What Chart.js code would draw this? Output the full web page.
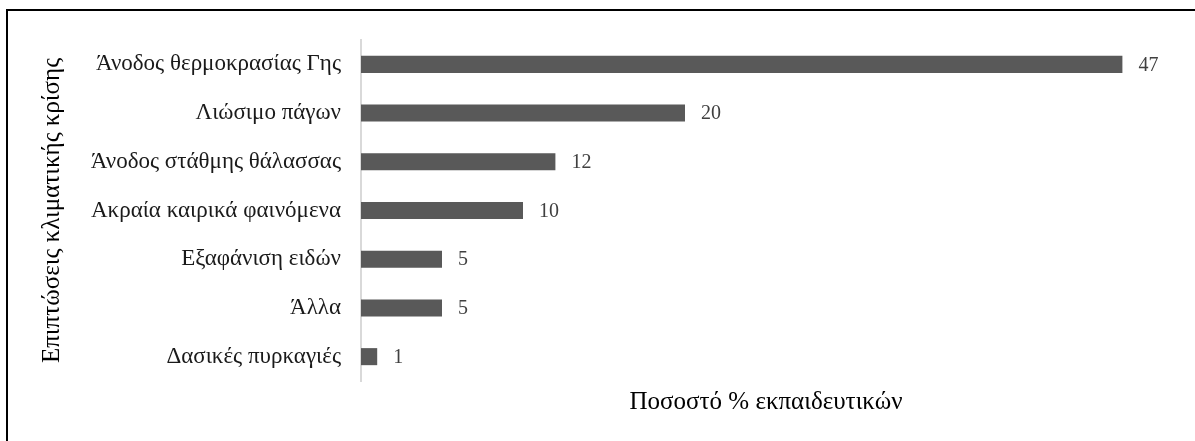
<!DOCTYPE html>
<html>
<head>
<meta charset="utf-8">
<script src="https://cdn.jsdelivr.net/npm/chart.js@4/dist/chart.umd.min.js"></script>
<style>
  html, body { margin: 0; padding: 0; background: #fff; overflow: hidden; }
  #wrap { position: relative; width: 1195px; height: 441px; }
  #frame { position: absolute; left: 6px; top: 9px; right: -10px; bottom: -10px; border: 2px solid #000; pointer-events: none; }
  canvas { position: absolute; left: 0; top: 0; }
</style>
</head>
<body>
<div id="wrap">
  <canvas id="myChart" width="1195" height="441"></canvas>
  <div id="frame"></div>
</div>
<script>
// Επιπτώσεις κλιματικής κρίσης (% εκπαιδευτικών)
var categories = [
  'Άνοδος θερμοκρασίας Γης',
  'Λιώσιμο πάγων',
  'Άνοδος στάθμης θάλασσας',
  'Ακραία καιρικά φαινόμενα',
  'Εξαφάνιση ειδών',
  'Άλλα',
  'Δασικές πυρκαγιές'
];
var percentValues = [47, 20, 12, 10, 5, 5, 1];
var xTitle = 'Ποσοστό % εκπαιδευτικών';
var yTitle = 'Επιπτώσεις κλιματικής κρίσης';

var serif = "'Liberation Serif', 'DejaVu Serif', serif";

// γράφει την τιμή δεξιά από κάθε μπάρα
var valueLabels = {
  id: 'valueLabels',
  afterDatasetsDraw(chart) {
    var ctx = chart.ctx;
    var meta = chart.getDatasetMeta(0);
    ctx.save();
    ctx.font = '20px ' + serif;
    ctx.fillStyle = '#404040';
    ctx.textAlign = 'left';
    ctx.textBaseline = 'middle';
    meta.data.forEach(function (bar, i) {
      ctx.fillText(String(percentValues[i]), bar.x + 16, bar.y + 1);
    });
    ctx.restore();
  }
};

const ctx = document.getElementById('myChart');
new Chart(ctx, {
  type: 'bar',
  data: {
    labels: categories,
    datasets: [{
      data: percentValues,
      backgroundColor: '#595959',
      borderWidth: 0,
      barPercentage: 0.35,
      categoryPercentage: 1
    }]
  },
  options: {
    indexAxis: 'y',
    responsive: false,
    animation: false,
    layout: { padding: { left: 20, top: 40, right: 24, bottom: 0 } },
    plugins: { legend: { display: false }, tooltip: { enabled: false } },
    scales: {
      x: {
        min: 0,
        max: 50,
        grid: { display: false },
        border: { display: false },
        ticks: { display: false },
        title: {
          display: true,
          text: xTitle,
          color: '#000',
          font: { family: serif, size: 25 },
          padding: { top: 0, bottom: 24 }
        },
        afterFit(scale) { scale.height = 60; }
      },
      y: {
        grid: { display: false, drawTicks: false },
        border: { display: true, color: '#d9d9d9', width: 2 },
        ticks: {
          color: '#1a1a1a',
          font: { family: serif, size: 23 },
          padding: 20
        },
        title: {
          display: true,
          text: yTitle,
          color: '#000',
          font: { family: serif, size: 25 },
          padding: { top: 17, bottom: 0 }
        },
        afterFit(scale) { scale.width = 341; }
      }
    }
  },
  plugins: [valueLabels]
});
</script>
</body>
</html>
